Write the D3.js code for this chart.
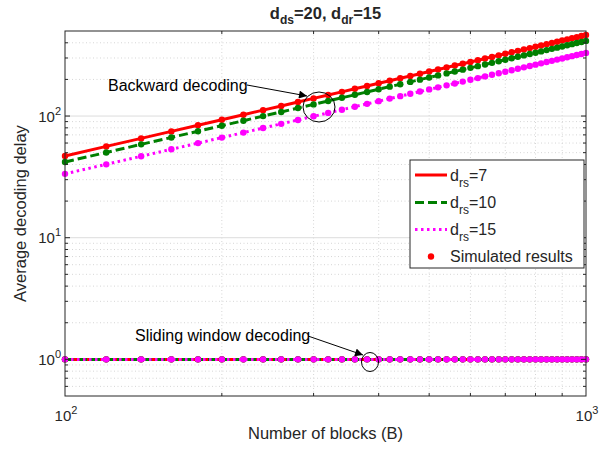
<!DOCTYPE html>
<html><head><meta charset="utf-8">
<script src="https://cdn.jsdelivr.net/npm/d3@7"></script>
<style>body{margin:0;background:#fff}svg{display:block}text{font-family:"Liberation Sans",Arial,sans-serif;fill:#262626}</style>
</head><body><svg id="c" width="616" height="455"></svg>
<script>
const blocks = [100,120,140,160,180,200,220,240,260,280,300,320,340,360,380,400,420,440,460,480,500,520,540,560,580,600,620,640,660,680,700,720,740,760,780,800,820,840,860,880,900,920,940,960,980,1000];
const backwardRs7 = [47.0,56.3,65.5,74.8,84.0,93.3,102.6,111.8,121.1,130.3,139.6,148.9,158.1,167.4,176.6,185.9,195.2,204.4,213.7,222.9,232.2,241.5,250.7,260.0,269.2,278.5,287.8,297.0,306.3,315.5,324.8,334.1,343.3,352.6,361.8,371.1,380.4,389.6,398.9,408.1,417.4,426.7,435.9,445.2,454.4,463.7];
const backwardRs10 = [41.9,50.2,58.5,66.7,75.0,83.3,91.6,99.9,108.1,116.4,124.7,133.0,141.3,149.5,157.8,166.1,174.4,182.7,190.9,199.2,207.5,215.8,224.1,232.3,240.6,248.9,257.2,265.5,273.7,282.0,290.3,298.6,306.9,315.1,323.4,331.7,340.0,348.3,356.5,364.8,373.1,381.4,389.7,397.9,406.2,414.5];
const backwardRs15 = [33.5,40.1,46.7,53.3,59.9,66.5,73.1,79.7,86.3,92.9,99.5,106.1,112.7,119.3,125.9,132.5,139.1,145.7,152.3,158.9,165.5,172.1,178.7,185.3,191.9,198.5,205.1,211.7,218.3,224.9,231.5,238.1,244.7,251.3,257.9,264.5,271.1,277.7,284.3,290.9,297.5,304.1,310.7,317.3,323.9,330.5];
const slidingDelay = [1,1,1,1,1,1,1,1,1,1,1,1,1,1,1,1,1,1,1,1,1,1,1,1,1,1,1,1,1,1,1,1,1,1,1,1,1,1,1,1,1,1,1,1,1,1];
const seriesNames = ["7","10","15"];
const xTickExps = [2,3];
const yTickExps = [0,1,2];

const svg = d3.select("#c");
const L=65,R=586,T=31,B=396;
const x = d3.scaleLog().domain([100,1000]).range([L,R]);
const y = d3.scaleLog().domain([0.5,500]).range([B,T]);
const axisCol="#262626";

// grid
const g = svg.append("g");
const yMinor=[], yMajor=[];
[-1,0,1,2].forEach(e=>{for(let k=1;k<=9;k++){const v=k*Math.pow(10,e); if(v>0.5&&v<500){(k===1?yMajor:yMinor).push(v);}}});
const xMinor=[200,300,400,500,600,700,800,900];
g.selectAll(".ymn").data(yMinor).join("line").attr("x1",L).attr("x2",R).attr("y1",d=>y(d)).attr("y2",d=>y(d))
 .attr("stroke","#d6d6d6").attr("stroke-width",1).attr("stroke-dasharray","1,2.5");
g.selectAll(".xmn").data(xMinor).join("line").attr("y1",T).attr("y2",B).attr("x1",d=>x(d)).attr("x2",d=>x(d))
 .attr("stroke","#d6d6d6").attr("stroke-width",1).attr("stroke-dasharray","1,2.5");
g.selectAll(".ymj").data(yMajor).join("line").attr("x1",L).attr("x2",R).attr("y1",d=>y(d)).attr("y2",d=>y(d))
 .attr("stroke","#dcdcdc").attr("stroke-width",1);

// series
const colors=["#ff0000","#007f00","#ff00ff"];
const dashes=[null,"9,4","2.5,3.5"];
const back=[backwardRs7,backwardRs10,backwardRs15];
const line=d3.line().x((d,i)=>x(blocks[i])).y(d=>y(d));
const pg=svg.append("g");
function drawSet(arrs){
  arrs.forEach((arr,si)=>{
    pg.append("path").datum(arr).attr("d",line).attr("fill","none").attr("stroke",colors[si]).attr("stroke-width",3)
      .attr("stroke-dasharray",dashes[si]);
    pg.selectAll(null).data(arr).join("circle").attr("cx",(d,i)=>x(blocks[i])).attr("cy",d=>y(d)).attr("r",3.2).attr("fill",colors[si]);
  });
}
drawSet(back);
drawSet([slidingDelay,slidingDelay,slidingDelay]);

// box + ticks
svg.append("rect").attr("x",L).attr("y",T).attr("width",R-L).attr("height",B-T).attr("fill","none").attr("stroke",axisCol).attr("stroke-width",1);
const tg=svg.append("g").attr("stroke",axisCol).attr("stroke-width",1);
yMajor.forEach(v=>{tg.append("line").attr("x1",L).attr("x2",L+5).attr("y1",y(v)).attr("y2",y(v));tg.append("line").attr("x1",R).attr("x2",R-5).attr("y1",y(v)).attr("y2",y(v));});
yMinor.forEach(v=>{tg.append("line").attr("x1",L).attr("x2",L+3).attr("y1",y(v)).attr("y2",y(v));tg.append("line").attr("x1",R).attr("x2",R-3).attr("y1",y(v)).attr("y2",y(v));});
xMinor.forEach(v=>{tg.append("line").attr("y1",B).attr("y2",B-3).attr("x1",x(v)).attr("x2",x(v));tg.append("line").attr("y1",T).attr("y2",T+3).attr("x1",x(v)).attr("x2",x(v));});

// tick labels
yTickExps.forEach(e=>{
  const t=svg.append("text").attr("x",61).attr("y",y(Math.pow(10,e))+5.5).attr("text-anchor","end").attr("font-size",15);
  t.append("tspan").text("10");
  t.append("tspan").attr("dy",-7).attr("font-size",11).text(e);
});
xTickExps.forEach(e=>{
  const t=svg.append("text").attr("x",x(Math.pow(10,e))+1).attr("y",421).attr("text-anchor","middle").attr("font-size",15);
  t.append("tspan").text("10");
  t.append("tspan").attr("dy",-7).attr("font-size",11).text(e);
});

// axis labels
svg.append("text").attr("x",(L+R)/2).attr("y",439).attr("text-anchor","middle").attr("font-size",16.5).text("Number of blocks (B)");
svg.append("text").attr("transform",`translate(26,${(T+B)/2}) rotate(-90)`).attr("text-anchor","middle").attr("font-size",16.5).text("Average decoding delay");

// title
const tt=svg.append("text").attr("x",(L+R)/2).attr("y",19).attr("text-anchor","middle").attr("font-size",16.5).attr("font-weight","bold");
tt.append("tspan").text("d");
tt.append("tspan").attr("dy",5).attr("font-size",12).text("ds");
tt.append("tspan").attr("dy",-5).text("=20, d");
tt.append("tspan").attr("dy",5).attr("font-size",12).text("dr");
tt.append("tspan").attr("dy",-5).text("=15");

// annotations
const defs=svg.append("defs");
defs.append("marker").attr("id","ah").attr("viewBox","0 0 10 10").attr("refX",10).attr("refY",5).attr("markerWidth",10).attr("markerHeight",8).attr("markerUnits","userSpaceOnUse").attr("orient","auto")
 .append("path").attr("d","M0,0 L10,5 L0,10 Z").attr("fill","#000");
svg.append("text").attr("x",108).attr("y",91).attr("font-size",16).attr("fill","#000").style("fill","#000").text("Backward decoding");
svg.append("line").attr("x1",247).attr("y1",85).attr("x2",307).attr("y2",96).attr("stroke","#000").attr("stroke-width",1).attr("marker-end","url(#ah)");
svg.append("ellipse").attr("cx",319).attr("cy",107).attr("rx",16).attr("ry",15).attr("fill","none").attr("stroke","#000").attr("stroke-width",1);
svg.append("text").attr("x",135).attr("y",341).attr("font-size",16).style("fill","#000").text("Sliding window decoding");
svg.append("line").attr("x1",308).attr("y1",336).attr("x2",363).attr("y2",355).attr("stroke","#000").attr("stroke-width",1).attr("marker-end","url(#ah)");
svg.append("ellipse").attr("cx",370).attr("cy",362).attr("rx",8.5).attr("ry",9.5).attr("fill","none").attr("stroke","#000").attr("stroke-width",1);

// legend
const lg=svg.append("g");
lg.append("rect").attr("x",410).attr("y",160).attr("width",174).attr("height",108).attr("fill","#fff").attr("stroke",axisCol).attr("stroke-width",1);
const rows=[175,202.5,229.5];
seriesNames.forEach((n,i)=>{
  lg.append("line").attr("x1",415).attr("x2",447).attr("y1",rows[i]).attr("y2",rows[i]).attr("stroke",colors[i]).attr("stroke-width",3).attr("stroke-dasharray",dashes[i]);
  const t=lg.append("text").attr("x",450).attr("y",rows[i]+5.5).attr("font-size",16);
  t.append("tspan").text("d");
  t.append("tspan").attr("dy",6).attr("font-size",12).text("rs");
  t.append("tspan").attr("dy",-6).text("="+n);
});
lg.append("circle").attr("cx",431).attr("cy",256.5).attr("r",3.2).attr("fill","#ff0000");
lg.append("text").attr("x",450).attr("y",262).attr("font-size",16).text("Simulated results");
</script></body></html>
